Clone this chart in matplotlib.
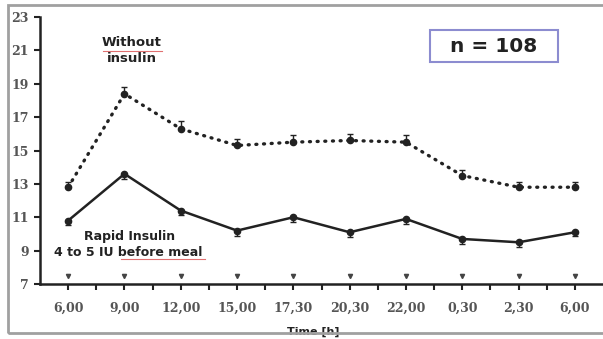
import matplotlib
matplotlib.use('Agg')
import matplotlib.pyplot as plt
from matplotlib.patches import Rectangle
import numpy as np

# time points and blood glucose values
times = ['6,00', '9,00', '12,00', '15,00', '17,30', '20,30', '22,00', '0,30', '2,30', '6,00']
without_insulin = [12.8, 18.4, 16.3, 15.3, 15.5, 15.6, 15.5, 13.5, 12.8, 12.8]
without_err = [0.3, 0.4, 0.45, 0.4, 0.45, 0.4, 0.4, 0.35, 0.3, 0.3]
rapid_insulin = [10.8, 13.6, 11.4, 10.2, 11.0, 10.1, 10.9, 9.7, 9.5, 10.1]
rapid_err = [0.25, 0.3, 0.25, 0.3, 0.3, 0.3, 0.3, 0.3, 0.3, 0.2]
sig_level = [7.45] * 10
yticks = [7, 9, 11, 13, 15, 17, 19, 21, 23]

ink = '#222222'
x = np.arange(len(times))

fig = plt.figure(figsize=(6.03, 3.39), dpi=100)
ax = fig.add_axes([40 / 603, 55 / 339, 563 / 603, 267 / 339])

# dotted series (no insulin) - caps above only
ax.errorbar(x, without_insulin, yerr=[np.zeros(10), without_err], fmt='none',
            ecolor=ink, elinewidth=1, capsize=2.5, capthick=1)
ax.plot(x, without_insulin, color=ink, lw=2.4, linestyle=(0, (0.3, 2.0)),
        dash_capstyle='round', marker='o', ms=4.5, mfc=ink, mec=ink)

# solid series (rapid insulin) - caps below only
ax.errorbar(x, rapid_insulin, yerr=[rapid_err, np.zeros(10)], fmt='none',
            ecolor=ink, elinewidth=1, capsize=2.5, capthick=1)
ax.plot(x, rapid_insulin, color=ink, lw=1.8, marker='o', ms=4.5, mfc=ink, mec=ink)

# little significance marks above the axis
ax.plot(x, sig_level, linestyle='none', marker='v', ms=3, color='#444444')

ax.set_xlim(-0.5, 9.5)
ax.set_ylim(7, 23)
ax.set_xticks(x)
ax.set_xticklabels(times)
ax.set_xticks(x[:-1] + 0.5, minor=True)
ax.set_yticks(yticks)

for s in ['top', 'right']:
    ax.spines[s].set_visible(False)
for s in ['left', 'bottom']:
    ax.spines[s].set_linewidth(1.8)
    ax.spines[s].set_color(ink)

ax.tick_params(axis='x', which='major', direction='out', length=4, width=1.5,
               color=ink, pad=9)
ax.tick_params(axis='x', which='minor', direction='out', length=4, width=1.5, color=ink)
ax.tick_params(axis='y', direction='out', length=4, width=1.5, color=ink, pad=4)
for lab in ax.get_xticklabels() + ax.get_yticklabels():
    lab.set_fontfamily('DejaVu Serif')
    lab.set_fontsize(9)
    lab.set_fontweight('bold')
    lab.set_color('#555555')

lbl = dict(ha='center', va='center', fontweight='bold', family='DejaVu Sans', color=ink)
ax.text(1.13, 21.45, 'Without', fontsize=9.5, **lbl)
ax.text(1.13, 20.5, 'insulin', fontsize=9.5, **lbl)
ax.text(1.09, 9.82, 'Rapid Insulin', fontsize=9, **lbl)
ax.text(1.07, 8.9, '4 to 5 IU before meal', fontsize=9, **lbl)

# spell-check underlines from the original screenshot
fig.lines.append(plt.Line2D([103 / 603, 162 / 603], [288 / 339, 288 / 339],
                            transform=fig.transFigure, color='#e07070', lw=0.8))
fig.lines.append(plt.Line2D([121 / 603, 205 / 603], [80 / 339, 80 / 339],
                            transform=fig.transFigure, color='#e07070', lw=0.8))

# n = 108 box
fig.patches.append(Rectangle((430 / 603, 277 / 339), 128 / 603, 32 / 339,
                             transform=fig.transFigure, fill=False,
                             edgecolor='#8c8cd0', lw=1.5))
fig.text(494 / 603, 293 / 339, 'n = 108', ha='center', va='center', fontsize=14.5,
         fontweight='bold', family='DejaVu Sans', color=ink)

fig.text(313 / 603, 7 / 339, 'Time [h]', ha='center', va='center', fontsize=8,
         fontweight='bold', family='DejaVu Sans', color=ink)

# grey frame of the screenshot (right side runs off the image)
fig.patches.append(Rectangle((8 / 603, 6 / 339), 0.995, 328 / 339,
                             transform=fig.transFigure, fill=False,
                             edgecolor='#a0a0a0', lw=2, zorder=10))

fig.savefig('out.png', dpi=100)
